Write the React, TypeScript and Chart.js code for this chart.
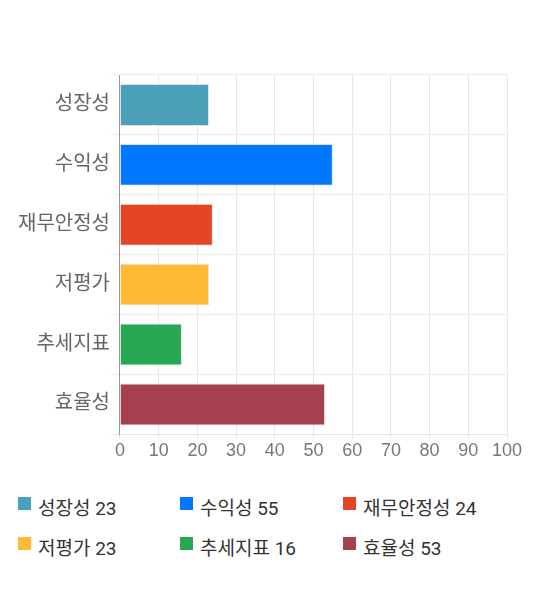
import { useEffect, useRef } from 'react';
import { Chart, registerables } from 'chart.js';

Chart.register(...registerables);

const categories = ['성장성', '수익성', '재무안정성', '저평가', '추세지표', '효율성'];
const scores = [23, 55, 24, 23, 16, 53];
const barColors = ['#4aa1b9', '#0077ff', '#e34525', '#ffb933', '#28a853', '#a6404f'];
const xTicks = [0, 10, 20, 30, 40, 50, 60, 70, 80, 90, 100];

const FONT = 'Roboto, "Noto Sans CJK KR", sans-serif';
const TICK_FONT = '"Liberation Sans", Arial, sans-serif';

function BarChart() {
    const canvasRef = useRef<HTMLCanvasElement>(null);

    useEffect(() => {
        if (!canvasRef.current) return;
        const chart = new Chart(canvasRef.current, {
            type: 'bar',
            data: {
                labels: categories,
                datasets: [{
                    data: scores,
                    backgroundColor: barColors,
                    borderColor: 'rgba(220,220,220,0.8)',
                    borderWidth: 1,
                    barPercentage: 0.7,
                    categoryPercentage: 1,
                }],
            },
            options: {
                indexAxis: 'y',
                animation: false,
                responsive: true,
                maintainAspectRatio: false,
                layout: { padding: { top: 67, right: 25, left: 9, bottom: 0 } },
                plugins: {
                    legend: { display: false },
                    tooltip: { enabled: false },
                },
                scales: {
                    x: {
                        min: xTicks[0],
                        max: xTicks[xTicks.length - 1],
                        afterBuildTicks: (axis) => { axis.ticks = xTicks.map(v => ({ value: v })); },
                        grid: { color: '#e8e8e8', tickLength: 4 },
                        border: { color: '#e8e8e8' },
                        ticks: { color: '#777', font: { family: TICK_FONT, size: 18 }, padding: 2 },
                    },
                    y: {
                        grid: { color: '#ececec', offset: true, tickLength: 9 },
                        border: { color: '#999' },
                        ticks: { color: '#666', font: { family: FONT, size: 20 }, padding: 1 },
                    },
                },
            },
        });
        return () => chart.destroy();
    }, []);

    return (
        <div style={{ position: 'relative', width: 524, height: 456 }}>
            <canvas ref={canvasRef} />
        </div>
    );
}

function Legend() {
    return (
        <div style={{ display: 'grid', gridTemplateColumns: '162px 163px 190px', rowGap: 14, paddingLeft: 10, marginTop: 32, fontFamily: FONT, fontSize: 19, color: '#333' }}>
            {categories.map((c, i) => (
                <div key={c} style={{ display: 'flex', alignItems: 'flex-start', height: 26 }}>
                    <span style={{ display: 'inline-block', width: 13, height: 13, background: barColors[i], marginTop: 1, marginRight: 7 }} />
                    <span style={{ lineHeight: '26px' }}>{c} {scores[i]}</span>
                </div>
            ))}
        </div>
    );
}

export default function App() {
    return (
        <div style={{ width: 524 }}>
            <BarChart />
            <Legend />
        </div>
    );
}
